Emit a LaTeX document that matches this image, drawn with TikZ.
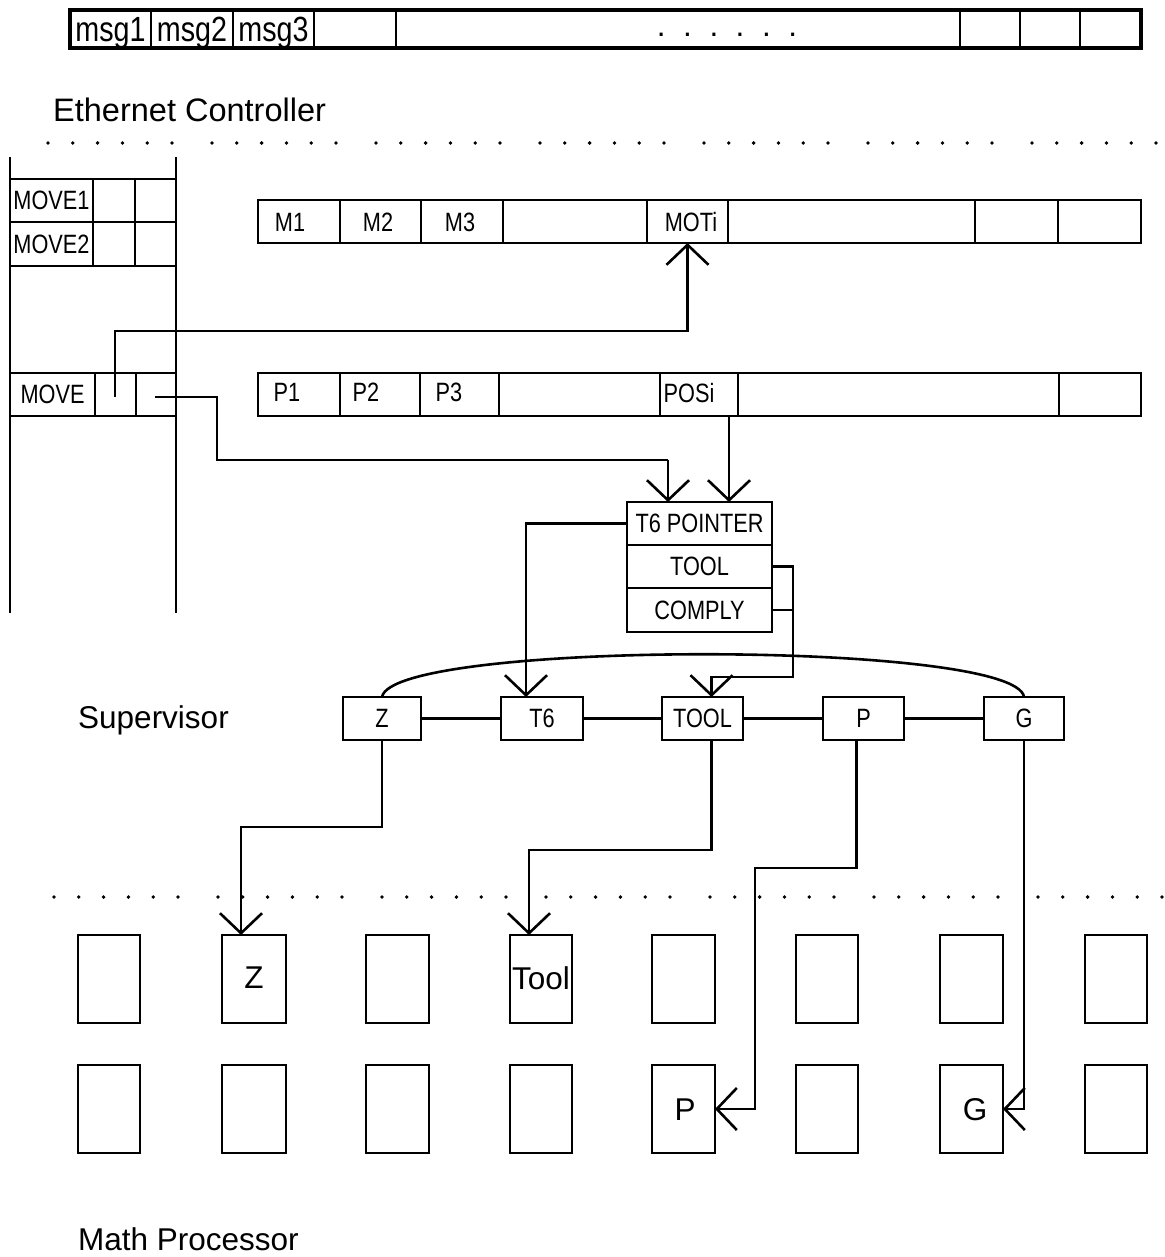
\documentclass[tikz,border=0pt]{standalone}
\usepackage{fontspec}
\setmainfont{Liberation Sans}
\newfontfamily\narrowfont[FakeStretch=0.82]{Liberation Sans}
\usetikzlibrary{arrows.meta}
\newcommand\mkcell[7][]{\node[cell,#1,minimum width={(#4-#3)*1pt},minimum height={(#6-#5)*1pt}] (#2) at ({(#3+#4)/2},{(#5+#6)/2}) {#7};}
\begin{document}
\begin{tikzpicture}[x=1pt,y=-1pt,
  cell/.style={draw,line width=2.4pt,inner sep=0pt,outer sep=0pt,font=\narrowfont\fontsize{26.5}{26.5}\selectfont},
  big/.style={font=\fontsize{31.5}{31.5}\selectfont},
  msgf/.style={font=\narrowfont\fontsize{35}{35}\selectfont,inner sep=0pt},
  lab/.style={font=\narrowfont\fontsize{26.5}{26.5}\selectfont,inner sep=0pt},
  bbox/.style={line width=2.6pt},
  conn/.style={line width=2.6pt},
  arr/.style={conn,-{Straight Barb[length=20pt,width=42pt]}},
  dotline/.style={line width=3.8pt,line cap=round,
    dash pattern=on 0pt off 24.8pt on 0pt off 24.8pt on 0pt off 24.8pt on 0pt off 24.8pt on 0pt off 24.8pt on 0pt off 40pt}]
\useasboundingbox (0,0) rectangle (1164,1257);
% ---------- message buffer ----------
\mkcell{b1}{70}{151}{10}{48}{}
\mkcell{b2}{151}{233}{10}{48}{}
\mkcell{b3}{233}{314}{10}{48}{}
\mkcell{b4}{314}{396}{10}{48}{}
\mkcell{b5}{396}{960}{10}{48}{}
\mkcell{b6}{960}{1020}{10}{48}{}
\mkcell{b7}{1020}{1080}{10}{48}{}
\mkcell{b8}{1080}{1141}{10}{48}{}
\draw[line width=3.2pt] (b1.north west) rectangle (b8.south east);
\node[msgf,anchor=base] (tmsg1) at (110.5,42) {msg1};
\node[msgf,anchor=base] (tmsg2) at (192,42) {msg2};
\node[msgf,anchor=base] (tmsg3) at (273.5,42) {msg3};
\node[big,anchor=base] (bdots) at (727,37) {.~~.~~.~~.~~.~~.};
\node[big,anchor=base west,inner sep=0pt,font=\fontsize{32.5}{32.5}\selectfont] (eth) at (53,122) {Ethernet Controller};
\coordinate (d1a) at (48,143); \coordinate (d1b) at (1164,143);
\draw[dotline] (d1a) -- (d1b);
% ---------- left column ----------
\coordinate (lc1) at (10,157); \coordinate (lc2) at (10,613);
\coordinate (rc1) at (176,157); \coordinate (rc2) at (176,613);
\draw[conn] (lc1) -- (lc2); \draw[conn] (rc1) -- (rc2);
\mkcell{mv1a}{10}{93}{179}{222}{MOVE1}
\mkcell{mv1b}{93}{135}{179}{222}{}
\mkcell{mv1c}{135}{176}{179}{222}{}
\mkcell{mv2a}{10}{93}{222}{266}{MOVE2}
\mkcell{mv2b}{93}{135}{222}{266}{}
\mkcell{mv2c}{135}{176}{222}{266}{}
\mkcell{mva}{10}{95}{373}{416}{MOVE}
\mkcell{mvb}{95}{136}{373}{416}{}
\mkcell{mvc}{136}{176}{373}{416}{}
% ---------- M row ----------
\mkcell{m1}{258}{340}{200}{243}{}
\mkcell{m2}{340}{421}{200}{243}{}
\mkcell{m3}{421}{503}{200}{243}{}
\mkcell{m4}{503}{647}{200}{243}{}
\mkcell{m5}{647}{728}{200}{243}{}
\mkcell{m6}{728}{975}{200}{243}{}
\mkcell{m7}{975}{1058}{200}{243}{}
\mkcell{m8}{1058}{1141}{200}{243}{}
\node[lab] (tm1) at (290,222) {M1};
\node[lab] (tm2) at (378,222) {M2};
\node[lab] (tm3) at (460,222) {M3};
\node[lab] (tm5) at (691,222) {MOTi};
% ---------- P row ----------
\mkcell{p1}{258}{340}{373}{416}{}
\mkcell{p2}{340}{420}{373}{416}{}
\mkcell{p3}{420}{499}{373}{416}{}
\mkcell{p4}{499}{660}{373}{416}{}
\mkcell{p5}{660}{738}{373}{416}{}
\mkcell{p6}{738}{1059}{373}{416}{}
\mkcell{p7}{1059}{1141}{373}{416}{}
\node[lab] (tp1) at (287,392) {P1};
\node[lab] (tp2) at (366,392) {P2};
\node[lab] (tp3) at (449,392) {P3};
\node[lab] (tp5) at (689,393) {POSi};
% ---------- T6 pointer block ----------
\mkcell{t6p}{627}{772}{502}{545}{T6 POINTER}
\mkcell{tl}{627}{772}{545}{588}{TOOL}
\mkcell{cmp}{627}{772}{588}{632}{COMPLY}
% ---------- supervisor ----------
\node[big,anchor=base west,inner sep=0pt] (sup) at (78,728) {Supervisor};
\mkcell{sz}{343}{421}{697}{740}{Z}
\mkcell{st6}{501}{583}{697}{740}{T6}
\mkcell{stool}{662}{743}{697}{740}{TOOL}
\mkcell{sp}{823}{904}{697}{740}{P}
\mkcell{sg}{984}{1064}{697}{740}{G}
\draw[conn] (sz.east) -- (st6.west);
\draw[conn] (st6.east) -- (stool.west);
\draw[conn] (stool.east) -- (sp.west);
\draw[conn] (sp.east) -- (sg.west);
\draw[conn] (sz.north) .. controls (392,640) and (1016,640) .. (sg.north);
% ---------- math processor ----------
\coordinate (d2a) at (54,897); \coordinate (d2b) at (1164,897);
\draw[dotline] (d2a) -- (d2b);
\foreach \i/\a/\b in {1/78/140,2/222/286,3/366/429,4/510/572,5/652/715,6/796/858,7/940/1003,8/1085/1147}{
  \mkcell[bbox]{r1c\i}{\a}{\b}{935}{1023}{}
  \mkcell[bbox]{r2c\i}{\a}{\b}{1065}{1153}{}
}
\node[big,anchor=base,inner sep=0pt] (tz) at (254,988) {Z};
\node[big,anchor=base,inner sep=0pt] (ttool) at (541,989) {Tool};
\node[big,anchor=base,inner sep=0pt] (tpp) at (685,1120) {P};
\node[big,anchor=base,inner sep=0pt] (tgg) at (975,1120) {G};
\node[big,anchor=base west,inner sep=0pt] (mp) at (78,1250) {Math Processor};
% ---------- connectors ----------
\coordinate (s1) at (115,397);
\draw[arr] (s1) -- (115,331) -- (m5.south |- 0,331) -- (m5.south);
\coordinate (s2) at (155,397);
\draw[conn] (s2) -- (217,397) -- (217,460) -- (668,460);
\draw[arr] (668,460) -- (t6p.north -| 668,0);
\coordinate (posout) at ([xshift=-9pt]p5.south east);
\draw[arr] (posout) -- (t6p.north -| posout);
\draw[arr] (t6p.west) -| ([xshift=-16pt]st6.north);
\coordinate (tin) at ([xshift=9pt]stool.north);
\draw[conn] (cmp.east) -- ++(21,0);
\draw[arr] (tl.east) -- ++(21,0) |- (tin |- 0,677) -- (tin);
\coordinate (za) at ([xshift=-13pt]r1c2.north);
\draw[arr] (sz.south) -- (sz.south |- 0,827) -| (za);
\coordinate (tout) at ([xshift=9pt]stool.south);
\coordinate (ta) at ([xshift=-12pt]r1c4.north);
\draw[arr] (tout) -- (tout |- 0,850) -| (ta);
\coordinate (pout) at ([xshift=-7pt]sp.south);
\draw[arr] (pout) -- (pout |- 0,868) -| ([xshift=40pt]r2c5.east) -- (r2c5.east);
\draw[arr] (sg.south) |- (r2c7.east);
\end{tikzpicture}
\end{document}
